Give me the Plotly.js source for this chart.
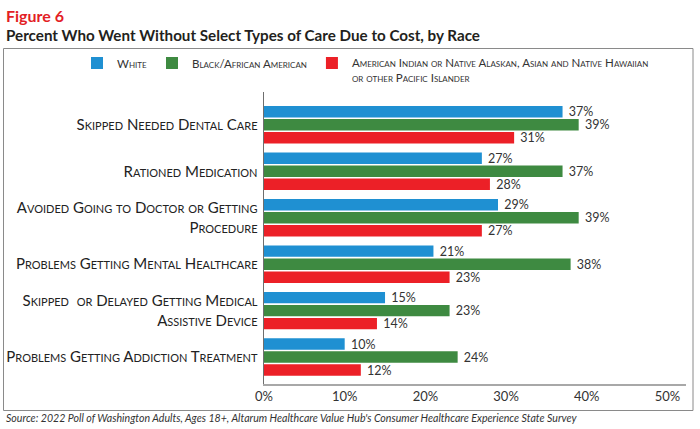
<!DOCTYPE html>
<html>
<head>
<meta charset="utf-8">
<script src="https://cdn.plot.ly/plotly-3.0.1.min.js"></script>
<style>html,body{margin:0;padding:0;background:#fff;}#chart{width:700px;height:429px;}</style>
</head>
<body>
<div id="chart"></div>
<script>
var categories = [
  "Skipped Needed Dental Care",
  "Rationed Medication",
  "Avoided Going to Doctor or Getting<br>Procedure",
  "Problems Getting Mental Healthcare",
  "Skipped  or Delayed Getting Medical<br>Assistive Device",
  "Problems Getting Addiction Treatment"
];
var seriesNames = [
  "White",
  "Black/African American",
  "American Indian or Native Alaskan, Asian and Native Hawaiian<br>or other Pacific Islander"
];
var whiteValues = [37, 27, 29, 21, 15, 10];
var blackValues = [39, 37, 39, 38, 23, 24];
var otherValues = [31, 28, 27, 23, 14, 12];
var xTickValues = [0, 10, 20, 30, 40, 50];
var xTickLabels = ["0%", "10%", "20%", "30%", "40%", "50%"];

var colors = ["#1f90d2", "#3e8a41", "#ec2027"];
var FONT = "Lato, 'Open Sans', sans-serif";

function mk(vals, name, color) {
  return {
    type: "bar",
    orientation: "h",
    y: categories,
    x: vals,
    name: name,
    marker: {color: color},
    text: vals.map(function(v){ return " " + v + "%"; }),
    textposition: "outside",
    constraintext: "none",
    cliponaxis: false,
    textfont: {family: FONT, size: 12.5, color: "#333"},
    hoverinfo: "x+name"
  };
}

var data = [
  mk(whiteValues, seriesNames[0], colors[0]),
  mk(blackValues, seriesNames[1], colors[1]),
  mk(otherValues, seriesNames[2], colors[2])
];

var L = 264, R = 14, T = 83, B = 45;
var PW = 700 - L - R, PH = 429 - T - B;
function px(x){ return (x - L) / PW; }
function py(y){ return (T + PH - y) / PH; }

var layout = {
  width: 700, height: 429,
  margin: {l: L, r: R, t: T, b: B, pad: 0},
  paper_bgcolor: "#fff", plot_bgcolor: "#fff",
  barmode: "group",
  bargap: 0.16,
  bargroupgap: 0.12,
  showlegend: true,
  legend: {
    orientation: "h",
    x: px(77), y: py(49), xanchor: "left", yanchor: "top",
    traceorder: "normal",
    valign: "top",
    font: {family: FONT, size: 11.5, color: "#333", variant: "small-caps"},
    itemwidth: 30
  },
  xaxis: {
    range: [0, 52.3],
    tickvals: xTickValues,
    ticktext: xTickLabels,
    showgrid: false, zeroline: false,
    showline: true, linecolor: "#a8a8a8", linewidth: 1.5,
    ticks: "",
    tickfont: {family: FONT, size: 13, color: "#333"},
    fixedrange: true
  },
  yaxis: {
    type: "category",
    categoryorder: "array",
    categoryarray: categories,
    range: [5.58, -0.9],
    showgrid: false, zeroline: false,
    showline: true, linecolor: "#6e6e6e", linewidth: 1.5,
    ticks: "",
    ticklabelstandoff: 2,
    tickfont: {family: FONT, size: 15, color: "#222", variant: "small-caps"},
    fixedrange: true
  },
  shapes: [{
    type: "rect", xref: "paper", yref: "paper",
    x0: px(3.5), x1: px(693), y0: py(410.5), y1: py(48.5),
    line: {color: "#8a8a8a", width: 1}, fillcolor: "rgba(0,0,0,0)", layer: "below"
  }],
  annotations: [
    {text: "<b>Figure 6</b>", xref: "paper", yref: "paper", x: px(4), y: py(15),
     xanchor: "left", yanchor: "middle", showarrow: false,
     font: {family: FONT, size: 16, color: "#e31e25"}},
    {text: "<b>Percent Who Went Without Select Types of Care Due to Cost, by Race</b>", xref: "paper", yref: "paper", x: px(4), y: py(35),
     xanchor: "left", yanchor: "middle", showarrow: false,
     font: {family: FONT, size: 15.2, color: "#231f20"}},
    {text: "<i>Source: 2022 Poll of Washington Adults, Ages 18+, Altarum Healthcare Value Hub's Consumer Healthcare Experience State Survey</i>",
     xref: "paper", yref: "paper", x: px(4), y: py(418),
     xanchor: "left", yanchor: "middle", showarrow: false,
     font: {family: FONT, size: 10.6, color: "#333"}}
  ]
};

Plotly.newPlot("chart", data, layout, {displayModeBar: false, staticPlot: true});
</script>
</body>
</html>
